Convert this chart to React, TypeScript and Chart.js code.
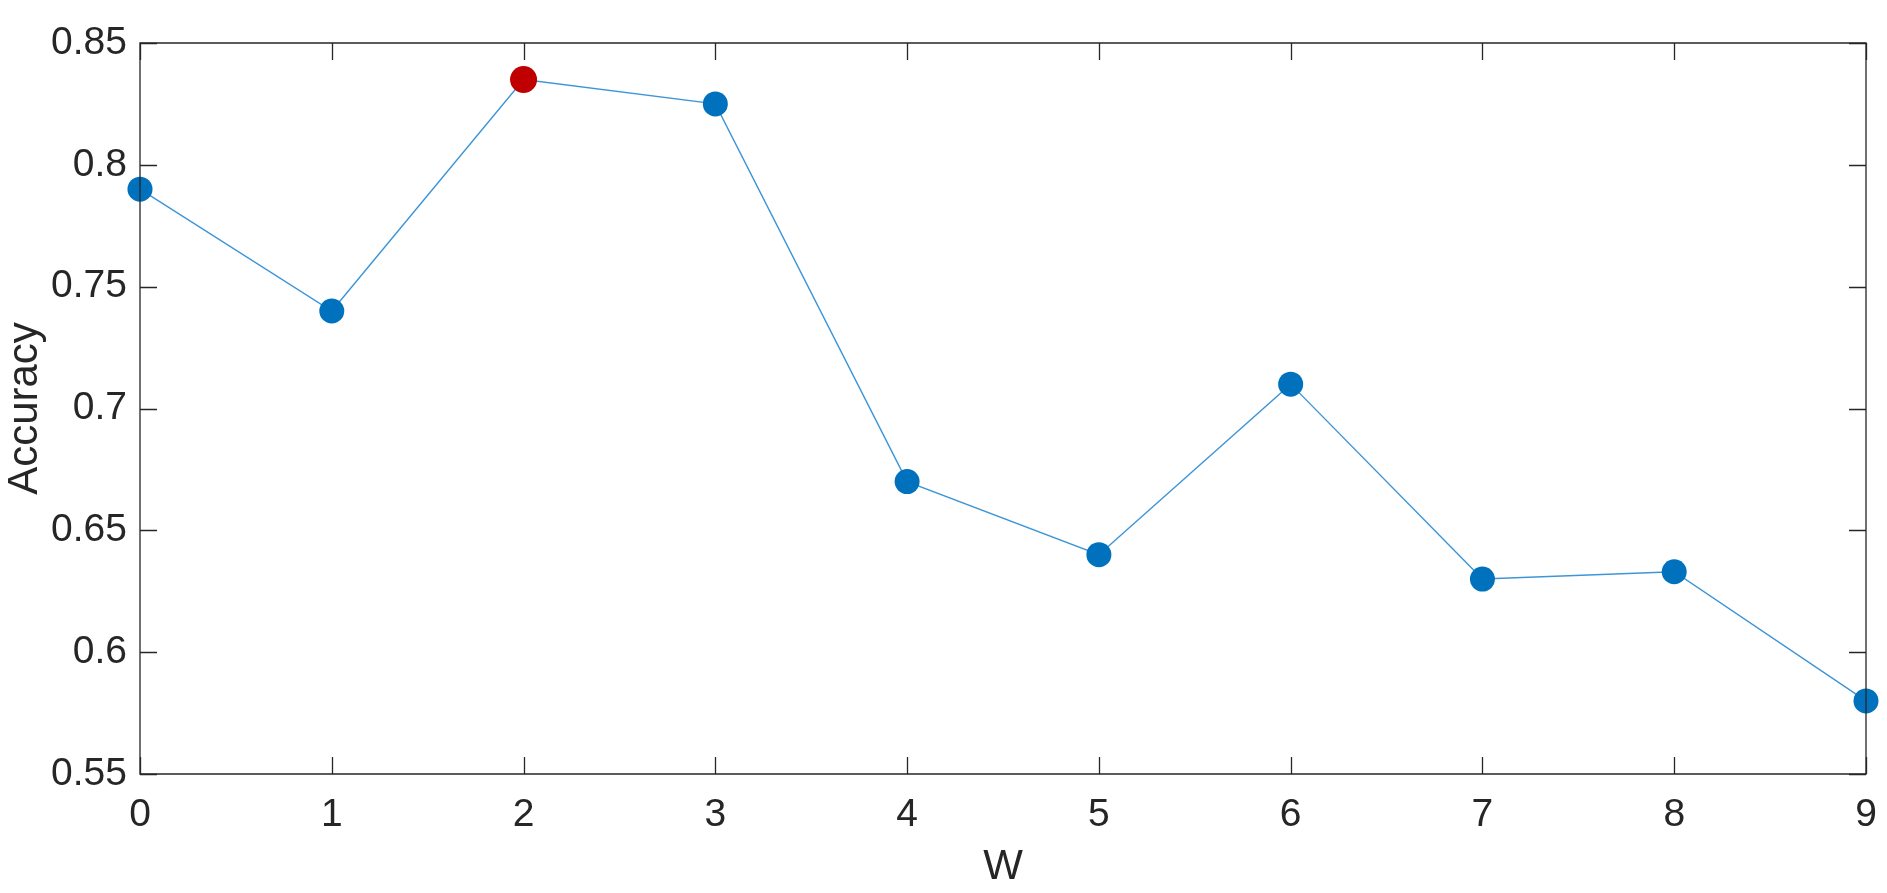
import React, { useEffect, useRef } from "react";
import { Chart, registerables } from "chart.js";

Chart.register(...registerables);

const wValues = [0, 1, 2, 3, 4, 5, 6, 7, 8, 9];
const accuracy = [0.79, 0.74, 0.835, 0.825, 0.67, 0.64, 0.71, 0.63, 0.633, 0.58];
const bestIndex = 2;
const yTicks = [0.55, 0.6, 0.65, 0.7, 0.75, 0.8, 0.85];
const xTicks = [0, 1, 2, 3, 4, 5, 6, 7, 8, 9];

const AXIS_COLOR = "#262626";
const FONT = "'Liberation Sans', Arial, Helvetica, sans-serif";

const boxPlugin = {
  id: "matlabBox",
  afterDraw(chart: any) {
    const { ctx, chartArea } = chart;
    const { left, right, top, bottom } = chartArea;
    const xs = chart.scales.x;
    const ys = chart.scales.y;
    const tl = 17;
    ctx.save();
    ctx.strokeStyle = AXIS_COLOR;
    ctx.lineWidth = 1.3;
    ctx.beginPath();
    ctx.rect(left, top, right - left, bottom - top);
    ctx.stroke();
    ctx.beginPath();
    for (const v of yTicks) {
      const y = Math.round(ys.getPixelForValue(v)) + 0.5;
      ctx.moveTo(left, y);
      ctx.lineTo(left + tl, y);
      ctx.moveTo(right, y);
      ctx.lineTo(right - tl, y);
    }
    for (const v of xTicks) {
      const x = Math.round(xs.getPixelForValue(v)) + 0.5;
      ctx.moveTo(x, bottom);
      ctx.lineTo(x, bottom - tl);
      ctx.moveTo(x, top);
      ctx.lineTo(x, top + tl);
    }
    ctx.stroke();
    ctx.restore();
  },
};

export default function App() {
  const ref = useRef<HTMLCanvasElement | null>(null);
  useEffect(() => {
    if (!ref.current) return;
    const data = wValues.map((w, i) => ({ x: w, y: accuracy[i] }));
    const colors = accuracy.map((_, i) => (i === bestIndex ? "#C00000" : "#0072BD"));
    const radii = accuracy.map((_, i) => (i === bestIndex ? 13.5 : 12.5));
    const chart = new Chart(ref.current, {
      type: "line",
      data: {
        datasets: [
          {
            data,
            borderColor: "#3D95D8",
            borderWidth: 1.4,
            pointRadius: radii,
            pointHoverRadius: radii,
            pointBackgroundColor: colors,
            pointBorderColor: colors,
            pointBorderWidth: 0,
            clip: false,
            tension: 0,
          } as any,
        ],
      },
      options: {
        responsive: false,
        animation: false,
        events: [],
        layout: { padding: { left: 0, top: 43, right: 21, bottom: 0 } },
        plugins: { legend: { display: false }, tooltip: { enabled: false } },
        scales: {
          x: {
            type: "linear",
            min: 0,
            max: 9,
            grid: { display: false },
            border: { display: false },
            afterBuildTicks: (s: any) => {
              s.ticks = xTicks.map((v) => ({ value: v }));
            },
            afterFit: (s: any) => {
              s.height = 119;
            },
            ticks: {
              color: AXIS_COLOR,
              font: { family: FONT, size: 39 },
              padding: 10,
              maxRotation: 0,
              autoSkip: false,
            },
            title: {
              display: true,
              text: "W",
              color: AXIS_COLOR,
              font: { family: FONT, size: 42 },
              padding: { top: 0, bottom: 0 },
            },
          },
          y: {
            type: "linear",
            min: 0.55,
            max: 0.85,
            grid: { display: false },
            border: { display: false },
            afterBuildTicks: (s: any) => {
              s.ticks = yTicks.map((v) => ({ value: v }));
            },
            afterFit: (s: any) => {
              s.width = 140;
            },
            ticks: {
              color: AXIS_COLOR,
              font: { family: FONT, size: 39 },
              padding: 5,
              autoSkip: false,
              callback: (v: any) => String(Number(Number(v).toFixed(2))),
            },
            title: {
              display: true,
              text: "Accuracy",
              color: AXIS_COLOR,
              font: { family: FONT, size: 42 },
              padding: { top: 0, bottom: 0 },
            },
          },
        },
      },
      plugins: [boxPlugin],
    });
    return () => chart.destroy();
  }, []);
  return (
    <div style={{ position: "absolute", left: 0, top: 0, width: 1887, height: 893, background: "#fff" }}>
      <canvas ref={ref} width={1887} height={893} style={{ display: "block" }} />
    </div>
  );
}
